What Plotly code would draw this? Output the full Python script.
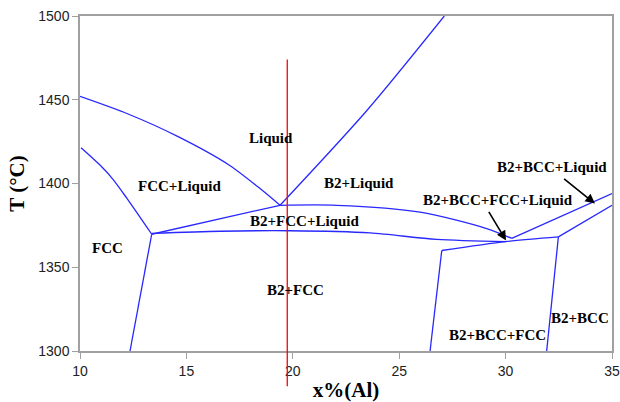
import plotly.graph_objects as go

# ---- data (x in at.% Al, T in °C) ----
fcc_liquidus_x = [10.0, 12.26, 14.61, 16.95, 18.36, 19.40]
fcc_liquidus_t = [1452.0, 1441.5, 1428.0, 1411.5, 1398.0, 1387.0]

fcc_solidus_x = [10.05, 10.94, 11.55, 12.19, 13.37]
fcc_solidus_t = [1421.4, 1411.0, 1402.5, 1391.4, 1369.7]

fcc_solvus_x = [13.37, 12.35]
fcc_solvus_t = [1369.7, 1300.0]

tri_left_x = [13.37, 19.40]
tri_left_t = [1369.7, 1387.0]

b2_liquidus_x = [19.40, 23.44, 27.12]
b2_liquidus_t = [1387.0, 1443.0, 1500.0]

tri_upper_x = [19.40, 22.06, 25.98, 29.11, 30.29]
tri_upper_t = [1387.0, 1387.0, 1382.9, 1373.1, 1367.2]

tri_lower_x = [13.37, 16.60, 19.87, 23.63, 26.76, 30.00]
tri_lower_t = [1370.2, 1371.5, 1371.8, 1370.5, 1366.6, 1365.3]

bcc_liq_upper_x = [30.29, 35.0]
bcc_liq_upper_t = [1367.2, 1394.0]

bcc_liq_lower_x = [32.48, 35.0]
bcc_liq_lower_t = [1368.1, 1387.0]

b2bccfcc_top_x = [27.00, 30.00, 32.48]
b2bccfcc_top_t = [1360.0, 1365.3, 1368.1]

b2fcc_right_x = [27.00, 26.45]
b2fcc_right_t = [1360.0, 1300.0]

b2bcc_left_x = [32.48, 31.93]
b2bcc_left_t = [1368.1, 1300.0]

section_x = 19.74
section_t = [1279.0, 1474.0]

labels = ["Liquid", "FCC+Liquid", "FCC", "B2+Liquid", "B2+FCC+Liquid", "B2+FCC",
          "B2+BCC+FCC", "B2+BCC", "B2+BCC+FCC+Liquid", "B2+BCC+Liquid"]
label_x = [18.98, 14.67, 11.28, 23.12, 20.53, 20.15, 29.60, 33.50, 29.62, 32.17]
label_t = [1427.2, 1398.3, 1361.2, 1400.3, 1377.7, 1336.4, 1309.5, 1319.7, 1390.4, 1409.9]

arrow_tail_x = [29.17, 32.68]
arrow_tail_t = [1384.0, 1403.5]
arrow_head_x = [30.02, 34.20]
arrow_head_t = [1366.0, 1388.0]

x_range = [10, 35]
t_range = [1300, 1500]

BLUE = "rgb(40,40,255)"

fig = go.Figure()
curves = [
    (fcc_liquidus_x, fcc_liquidus_t), (fcc_solidus_x, fcc_solidus_t),
    (fcc_solvus_x, fcc_solvus_t), (tri_left_x, tri_left_t),
    (b2_liquidus_x, b2_liquidus_t), (tri_upper_x, tri_upper_t),
    (tri_lower_x, tri_lower_t), (bcc_liq_upper_x, bcc_liq_upper_t),
    (bcc_liq_lower_x, bcc_liq_lower_t), (b2bccfcc_top_x, b2bccfcc_top_t),
    (b2fcc_right_x, b2fcc_right_t), (b2bcc_left_x, b2bcc_left_t),
]
for cx, ct in curves:
    fig.add_trace(go.Scatter(x=cx, y=ct, mode="lines",
                             line=dict(color=BLUE, width=1.3, shape="spline", smoothing=0.8),
                             showlegend=False, hoverinfo="skip"))

# red section line (extends below the axis) -- positioned via the axis ranges
xspan = x_range[1] - x_range[0]
tspan = t_range[1] - t_range[0]
fig.add_shape(type="line", xref="paper", yref="paper",
              x0=(section_x - x_range[0]) / xspan, x1=(section_x - x_range[0]) / xspan,
              y0=(section_t[0] - t_range[0]) / tspan, y1=(section_t[1] - t_range[0]) / tspan,
              line=dict(color="red", width=1.3))

for txt, lx, lt in zip(labels, label_x, label_t):
    fig.add_annotation(x=lx, y=lt, text=f"<b>{txt}</b>", showarrow=False,
                       font=dict(family="Liberation Serif", size=15, color="black"))

for tx, tt, hx, ht in zip(arrow_tail_x, arrow_tail_t, arrow_head_x, arrow_head_t):
    fig.add_annotation(x=hx, y=ht, ax=tx, ay=tt, axref="x", ayref="y", text="",
                       showarrow=True, arrowhead=2, arrowsize=1.2, arrowwidth=1.6,
                       arrowcolor="black")

axis_common = dict(showline=True, linecolor="#a0a0a0", linewidth=1.5, mirror=True,
                   ticks="outside", ticklen=6, tickcolor="#a0a0a0", tickwidth=1.2,
                   showgrid=False, zeroline=False, automargin=False,
                   tickfont=dict(family="Liberation Sans", size=14, color="#222"))

fig.update_layout(
    width=620, height=402,
    margin=dict(l=80, r=8, t=15.5, b=51),
    plot_bgcolor="white", paper_bgcolor="white",
    xaxis=dict(range=x_range, tickvals=[10, 15, 20, 25, 30, 35],
               title=dict(text="<b>x%(Al)</b>", standoff=6,
                          font=dict(family="Liberation Serif", size=21, color="black")),
               **axis_common),
    yaxis=dict(range=t_range, tickvals=[1300, 1350, 1400, 1450, 1500],
               title=dict(text="<b>T (°C)</b>", standoff=8,
                          font=dict(family="Liberation Serif", size=21, color="black")),
               **axis_common),
)

fig.write_html("out.html")
